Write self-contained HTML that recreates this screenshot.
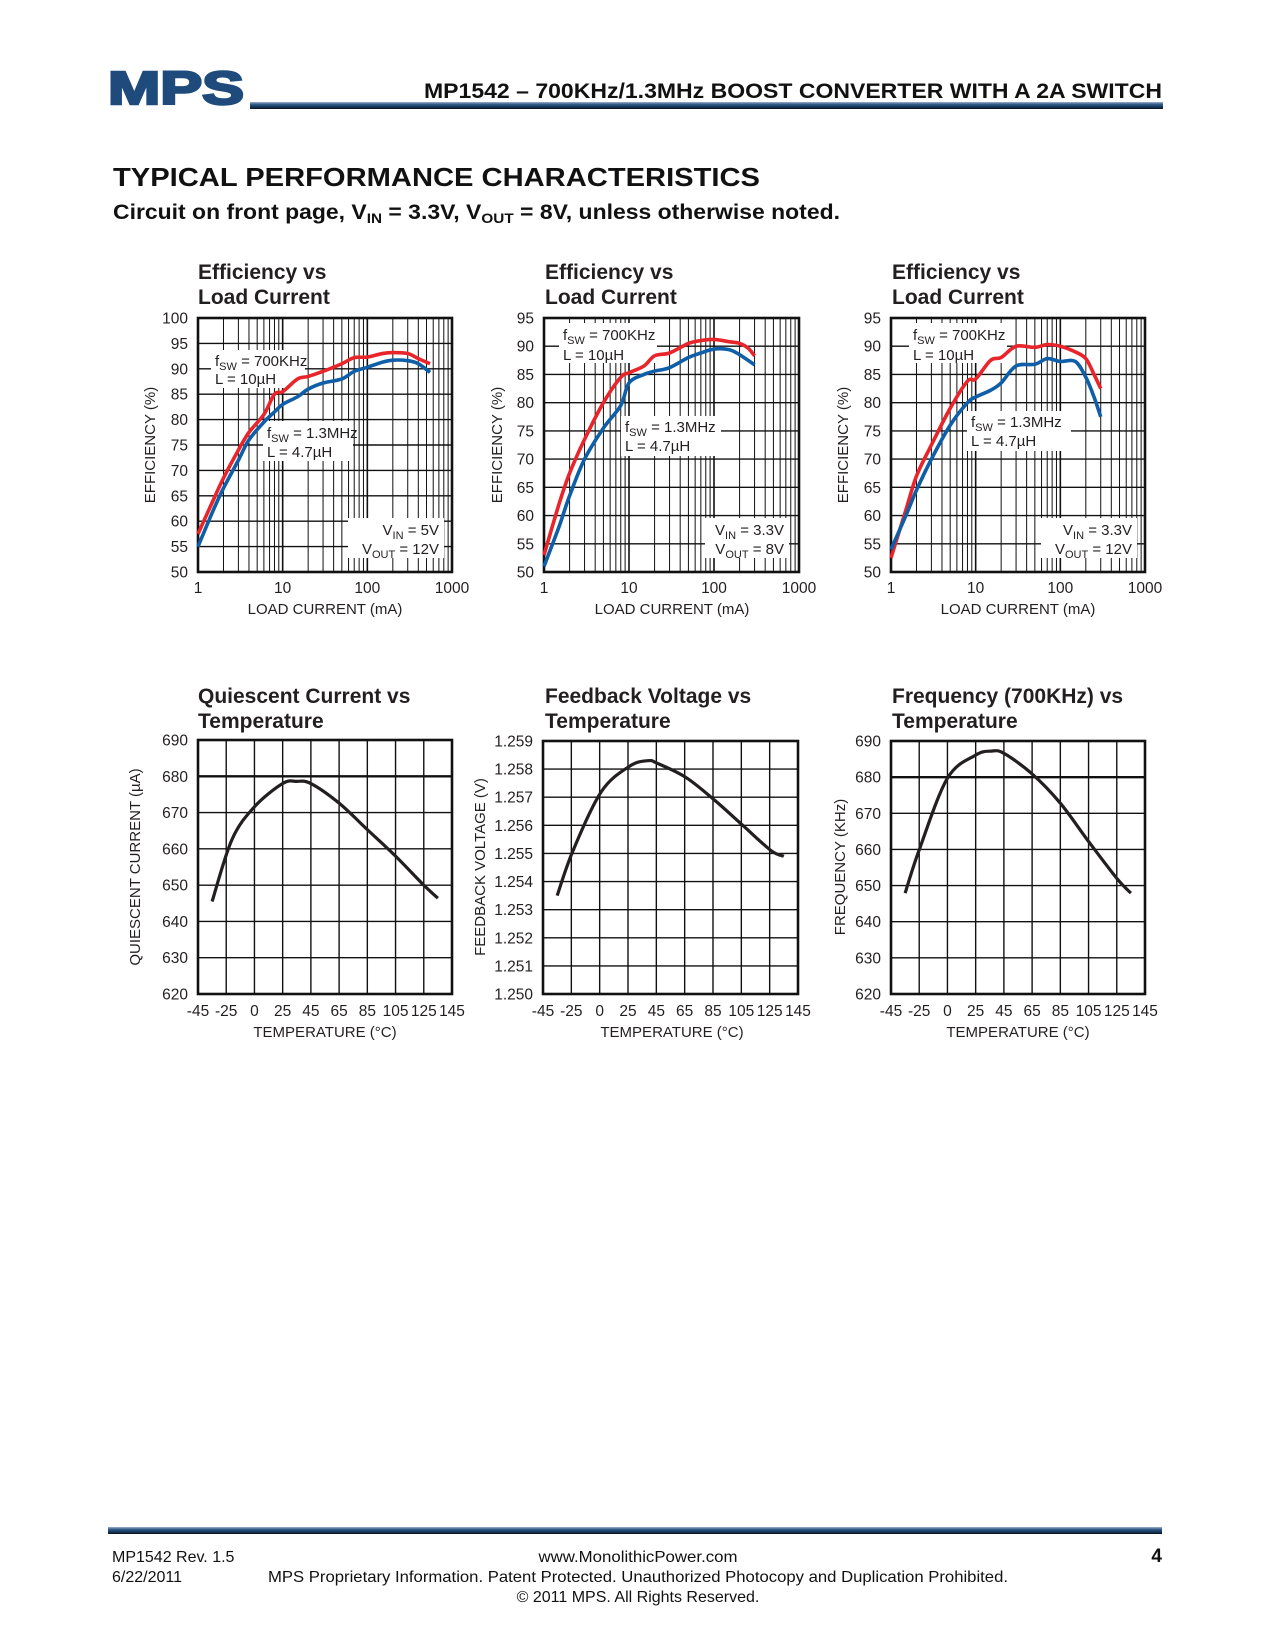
<!DOCTYPE html>
<html><head><meta charset="utf-8"><title>MP1542 Typical Performance Characteristics</title>
<style>
html,body{margin:0;padding:0;background:#fff;}
svg{display:block;font-family:"Liberation Sans",Arial,sans-serif;}
.tt{font-size:21px;font-weight:bold;fill:#231f20;}
.tk{font-size:15.5px;fill:#231f20;}
.ax{font-size:15px;fill:#231f20;}
.an{font-size:15px;fill:#231f20;}
</style></head>
<body>
<svg id="page" width="1275" height="1650" viewBox="0 0 1275 1650" xmlns="http://www.w3.org/2000/svg">
<defs>
<linearGradient id="barg" x1="0" y1="0" x2="0" y2="1">
<stop offset="0" stop-color="#9fb3cc"/><stop offset="0.35" stop-color="#2d5888"/><stop offset="0.8" stop-color="#0f2c4e"/><stop offset="1" stop-color="#111"/>
</linearGradient>
</defs>
<!-- header -->
<text x="108" y="104" font-size="46" font-weight="bold" fill="#1f4a7c" stroke="#1f4a7c" stroke-width="2.5" textLength="136" lengthAdjust="spacingAndGlyphs" style="font-family:'Liberation Sans',sans-serif">MPS</text>
<rect x="250" y="102" width="913" height="7" fill="url(#barg)"/>
<text x="1162" y="98" text-anchor="end" font-size="21" font-weight="bold" fill="#111" textLength="738" lengthAdjust="spacingAndGlyphs">MP1542 – 700KHz/1.3MHz BOOST CONVERTER WITH A 2A SWITCH</text>
<text x="113" y="186" font-size="26" font-weight="bold" fill="#111" textLength="647" lengthAdjust="spacingAndGlyphs">TYPICAL PERFORMANCE CHARACTERISTICS</text>
<text x="113" y="219" font-size="21" font-weight="bold" fill="#111" textLength="727" lengthAdjust="spacingAndGlyphs">Circuit on front page, V<tspan font-size="14" dy="4">IN</tspan><tspan dy="-4"> = 3.3V, V</tspan><tspan font-size="14" dy="4">OUT</tspan><tspan dy="-4"> = 8V, unless otherwise noted.</tspan></text>

<!-- chart titles -->
<text class="tt" x="198" y="279">Efficiency vs<tspan x="198" dy="25">Load Current</tspan></text>
<text class="tt" x="545" y="279">Efficiency vs<tspan x="545" dy="25">Load Current</tspan></text>
<text class="tt" x="892" y="279">Efficiency vs<tspan x="892" dy="25">Load Current</tspan></text>
<text class="tt" x="198" y="703">Quiescent Current vs<tspan x="198" dy="25">Temperature</tspan></text>
<text class="tt" x="545" y="703">Feedback Voltage vs<tspan x="545" dy="25">Temperature</tspan></text>
<text class="tt" x="892" y="703">Frequency (700KHz) vs<tspan x="892" dy="25">Temperature</tspan></text>

<!-- axis titles -->
<text class="ax" transform="translate(155,445) rotate(-90)" text-anchor="middle">EFFICIENCY (%)</text>
<text class="ax" transform="translate(502,445) rotate(-90)" text-anchor="middle">EFFICIENCY (%)</text>
<text class="ax" transform="translate(848,445) rotate(-90)" text-anchor="middle">EFFICIENCY (%)</text>
<text class="ax" transform="translate(140,867) rotate(-90)" text-anchor="middle">QUIESCENT CURRENT (µA)</text>
<text class="ax" transform="translate(485,867) rotate(-90)" text-anchor="middle">FEEDBACK VOLTAGE (V)</text>
<text class="ax" transform="translate(845,867) rotate(-90)" text-anchor="middle">FREQUENCY (KHz)</text>
<text class="ax" x="325" y="614" text-anchor="middle">LOAD CURRENT (mA)</text>
<text class="ax" x="672" y="614" text-anchor="middle">LOAD CURRENT (mA)</text>
<text class="ax" x="1018" y="614" text-anchor="middle">LOAD CURRENT (mA)</text>
<text class="ax" x="325" y="1037" text-anchor="middle">TEMPERATURE (°C)</text>
<text class="ax" x="672" y="1037" text-anchor="middle">TEMPERATURE (°C)</text>
<text class="ax" x="1018" y="1037" text-anchor="middle">TEMPERATURE (°C)</text>

<g id="grids"></g>

<!-- annotations -->
<g>
<rect x="211" y="350" width="94" height="38" fill="#fff"/>
<rect x="263" y="421" width="90" height="40" fill="#fff"/>
<rect x="348" y="518" width="96" height="40" fill="#fff"/>
<text class="an" x="215" y="366">f<tspan font-size="11" dy="4">SW</tspan><tspan dy="-4"> = 700KHz</tspan><tspan x="215" dy="18">L = 10µH</tspan></text>
<text class="an" x="267" y="438">f<tspan font-size="11" dy="4">SW</tspan><tspan dy="-4"> = 1.3MHz</tspan><tspan x="267" dy="19">L = 4.7µH</tspan></text>
<text class="an" x="439" y="535" text-anchor="end">V<tspan font-size="11" dy="4">IN</tspan><tspan dy="-4"> = 5V</tspan></text>
<text class="an" x="439" y="554" text-anchor="end">V<tspan font-size="11" dy="4">OUT</tspan><tspan dy="-4"> = 12V</tspan></text>
</g>
<g>
<rect x="559" y="323" width="98" height="40" fill="#fff"/>
<rect x="621" y="416" width="100" height="40" fill="#fff"/>
<rect x="705" y="518" width="84" height="40" fill="#fff"/>
<text class="an" x="563" y="340">f<tspan font-size="11" dy="4">SW</tspan><tspan dy="-4"> = 700KHz</tspan><tspan x="563" dy="20">L = 10µH</tspan></text>
<text class="an" x="625" y="432">f<tspan font-size="11" dy="4">SW</tspan><tspan dy="-4"> = 1.3MHz</tspan><tspan x="625" dy="19">L = 4.7µH</tspan></text>
<text class="an" x="784" y="535" text-anchor="end">V<tspan font-size="11" dy="4">IN</tspan><tspan dy="-4"> = 3.3V</tspan></text>
<text class="an" x="784" y="554" text-anchor="end">V<tspan font-size="11" dy="4">OUT</tspan><tspan dy="-4"> = 8V</tspan></text>
</g>
<g>
<rect x="909" y="323" width="98" height="40" fill="#fff"/>
<rect x="967" y="411" width="104" height="40" fill="#fff"/>
<rect x="1041" y="518" width="96" height="40" fill="#fff"/>
<text class="an" x="913" y="340">f<tspan font-size="11" dy="4">SW</tspan><tspan dy="-4"> = 700KHz</tspan><tspan x="913" dy="20">L = 10µH</tspan></text>
<text class="an" x="971" y="427">f<tspan font-size="11" dy="4">SW</tspan><tspan dy="-4"> = 1.3MHz</tspan><tspan x="971" dy="19">L = 4.7µH</tspan></text>
<text class="an" x="1132" y="535" text-anchor="end">V<tspan font-size="11" dy="4">IN</tspan><tspan dy="-4"> = 3.3V</tspan></text>
<text class="an" x="1132" y="554" text-anchor="end">V<tspan font-size="11" dy="4">OUT</tspan><tspan dy="-4"> = 12V</tspan></text>
</g>

<g id="curves"></g>

<!-- footer -->
<rect x="108" y="1527" width="1054" height="7" fill="url(#barg)"/>
<g font-size="16" fill="#111">
<text x="112" y="1562">MP1542 Rev. 1.5</text>
<text x="112" y="1582">6/22/2011</text>
<text x="638" y="1562" text-anchor="middle" textLength="199" lengthAdjust="spacingAndGlyphs">www.MonolithicPower.com</text>
<text x="638" y="1582" text-anchor="middle" textLength="740" lengthAdjust="spacingAndGlyphs">MPS Proprietary Information. Patent Protected. Unauthorized Photocopy and Duplication Prohibited.</text>
<text x="638" y="1602" text-anchor="middle">© 2011 MPS. All Rights Reserved.</text>
<text x="1162" y="1562" text-anchor="end" font-size="19" font-weight="bold">4</text>
</g>
</svg>
<script>
// ---- data ----
const c1Load = [1,1.5,2,3,4,6,8,10,15,20,30,50,70,100,150,200,300,400,550];
const c1Red  = [57.5,64,68.5,74,77.5,81,85,85.5,88,88.5,89.5,91,92.2,92.3,93,93.2,93,92,91];
const c1Blue = [55,62,66.5,72,76,79.5,81.5,83,84.5,86,87.2,88,89.5,90.3,91.3,91.7,91.6,91,89.3];
const c1YTicks = [50,55,60,65,70,75,80,85,90,95,100];

const c2Load = [1,1.5,2,3,5,8,10,15,20,30,50,70,100,150,200,250,300];
const c2Red  = [53,62,67.5,73.5,80,84.5,85.3,86.5,88.3,88.8,90.5,91,91.2,90.8,90.5,89.7,88.3];
const c2Load2 = [1,1.5,2,3,5,8,10,15,20,30,50,70,100,150,200,300];
const c2Blue = [51,58,63.5,70,75.5,79.5,83.5,85,85.6,86.2,88,88.8,89.5,89.4,88.5,86.7];
const c2YTicks = [50,55,60,65,70,75,80,85,90,95];

const c3Load = [1,1.5,2,3,5,8,10,15,20,30,50,70,100,150,200,250,300];
const c3Red  = [52.5,61,67,72.5,79,83.8,84.2,87.5,88,90,89.8,90.3,90,89,87.8,85,82.5];
const c3Blue = [54,60,64.5,70,76,80,81,82.2,83.5,86.5,86.8,87.8,87.3,87.3,84.5,81,77.5];
const c3YTicks = [50,55,60,65,70,75,80,85,90,95];

const xLogTicks = [1,10,100,1000];

const tempTicks = [-45,-25,0,25,45,65,85,105,125,145];
const qTemp = [-35,-20,0,25,35,45,65,85,105,125,135];
const qVal  = [645.5,662.5,671.6,678,678.6,678,672.6,665.3,658,650,646.4];
const qYTicks = [620,630,640,650,660,670,680,690];

const fbTemp = [-35,-23.5,1.5,26,39,46,66,86,106,126,135];
const fbVal  = [1.2535,1.2551,1.2572,1.2581,1.2583,1.2582,1.2577,1.2569,1.2560,1.2551,1.2549];
const fbYTicks = [1.250,1.251,1.252,1.253,1.254,1.255,1.256,1.257,1.258,1.259];

const frTemp = [-35,-25,0,25,36,45,65,85,105,125,135];
const frVal  = [647.9,659.9,679.7,686.1,687.2,686.6,680.9,672.8,662.2,652,647.9];
const frYTicks = [620,630,640,650,660,670,680,690];

// ---- helpers ----
const NS = 'http://www.w3.org/2000/svg';
const grids = document.getElementById('grids');
const curves = document.getElementById('curves');
function mk(tag, attrs, parent){
  const e = document.createElementNS(NS, tag);
  for (const k in attrs) e.setAttribute(k, attrs[k]);
  parent.appendChild(e);
  return e;
}
function logScale(L,W){ return v => L + Math.log10(v)/3*W; }
function linScale(min,max,T,H){ return v => T + H - (v-min)/(max-min)*H; }
function tempScale(L,W){
  return t => {
    let i = 0;
    while (i < tempTicks.length-2 && t > tempTicks[i+1]) i++;
    const f = (t - tempTicks[i])/(tempTicks[i+1]-tempTicks[i]);
    return L + (i+f)*W/(tempTicks.length-1);
  };
}
function smoothPath(pts){
  let d = 'M'+pts[0][0].toFixed(2)+','+pts[0][1].toFixed(2);
  for (let i=0;i<pts.length-1;i++){
    const p0 = pts[Math.max(0,i-1)], p1 = pts[i], p2 = pts[i+1], p3 = pts[Math.min(pts.length-1,i+2)];
    const c1x = p1[0]+(p2[0]-p0[0])/6, c1y = p1[1]+(p2[1]-p0[1])/6;
    const c2x = p2[0]-(p3[0]-p1[0])/6, c2y = p2[1]-(p3[1]-p1[1])/6;
    d += ' C'+c1x.toFixed(2)+','+c1y.toFixed(2)+' '+c2x.toFixed(2)+','+c2y.toFixed(2)+' '+p2[0].toFixed(2)+','+p2[1].toFixed(2);
  }
  return d;
}

function effChart(id, L, T, W, H, yTicks, series){
  const xs = logScale(L,W);
  const ys = linScale(yTicks[0], yTicks[yTicks.length-1], T, H);
  const g = mk('g', {}, grids);
  
  
  for (let dec=1; dec<1000; dec*=10){
    for (let m=2; m<=9; m++){
      const ln = mk('line', {x1:xs(dec*m), x2:xs(dec*m), y1:T, y2:T+H, stroke:'#111', 'stroke-width':1}, g);
      
      
    }
  }
  xLogTicks.forEach(v => {
    const ln = mk('line', {x1:xs(v), x2:xs(v), y1:T, y2:T+H, stroke:'#111', 'stroke-width':1.6}, g);
    
    
    const t = mk('text', {x:xs(v), y:T+H+21, 'text-anchor':'middle', class:'tk'}, g);
    t.textContent = String(v);
    
    
  });
  yTicks.forEach(v => {
    const ln = mk('line', {x1:L, x2:L+W, y1:ys(v), y2:ys(v), stroke:'#111', 'stroke-width':1.4}, g);
    
    
    const t = mk('text', {x:L-10, y:ys(v)+5.5, 'text-anchor':'end', class:'tk'}, g);
    t.textContent = String(v);
    
    
  });
  const fr = mk('rect', {x:L, y:T, width:W, height:H, fill:'none', stroke:'#111', 'stroke-width':2.6}, curves);
  
  
  series.forEach(s => {
    const pts = s.x.map((v,i) => [xs(v), ys(s.y[i])]);
    const p = mk('path', {d:smoothPath(pts), fill:'none', stroke:s.color, 'stroke-width':3.6, 'stroke-linejoin':'round'}, curves);
    
    
  });
}

function tempChart(id, L, T, W, H, yTicks, fmt, thickVal, tx, ty){
  const xs = tempScale(L,W);
  const ys = linScale(yTicks[0], yTicks[yTicks.length-1], T, H);
  const g = mk('g', {}, grids);
  
  
  tempTicks.forEach(v => {
    const ln = mk('line', {x1:xs(v), x2:xs(v), y1:T, y2:T+H, stroke:'#111', 'stroke-width':1.4}, g);
    
    
    const t = mk('text', {x:xs(v), y:T+H+22, 'text-anchor':'middle', class:'tk'}, g);
    t.textContent = String(v);
    
    
  });
  yTicks.forEach(v => {
    const ln = mk('line', {x1:L, x2:L+W, y1:ys(v), y2:ys(v), stroke:'#111', 'stroke-width': (v===thickVal?2.4:1.4)}, g);
    
    
    const t = mk('text', {x:L-10, y:ys(v)+5.5, 'text-anchor':'end', class:'tk'}, g);
    t.textContent = fmt(v);
    
    
  });
  const fr = mk('rect', {x:L, y:T, width:W, height:H, fill:'none', stroke:'#111', 'stroke-width':2.6}, curves);
  
  
  const pts = tx.map((v,i) => [xs(v), ys(ty[i])]);
  const p = mk('path', {d:smoothPath(pts), fill:'none', stroke:'#231f20', 'stroke-width':3.2}, curves);
  
  
}

effChart('chart1', 198, 318, 254, 254, c1YTicks, [
  {name:'red-700khz', x:c1Load, y:c1Red, color:'#e8252b'},
  {name:'blue-1-3mhz', x:c1Load, y:c1Blue, color:'#0f5ea8'}]);
effChart('chart2', 544, 318, 255, 254, c2YTicks, [
  {name:'red-700khz', x:c2Load, y:c2Red, color:'#e8252b'},
  {name:'blue-1-3mhz', x:c2Load2, y:c2Blue, color:'#0f5ea8'}]);
effChart('chart3', 891, 318, 254, 254, c3YTicks, [
  {name:'red-700khz', x:c3Load, y:c3Red, color:'#e8252b'},
  {name:'blue-1-3mhz', x:c3Load, y:c3Blue, color:'#0f5ea8'}]);

tempChart('chart4', 198, 740, 254, 254, qYTicks, v => String(v), 680, qTemp, qVal);
tempChart('chart5', 543, 741, 255, 253, fbYTicks, v => v.toFixed(3), null, fbTemp, fbVal);
tempChart('chart6', 891, 741, 254, 253, frYTicks, v => String(v), 680, frTemp, frVal);
</script>
</body></html>
